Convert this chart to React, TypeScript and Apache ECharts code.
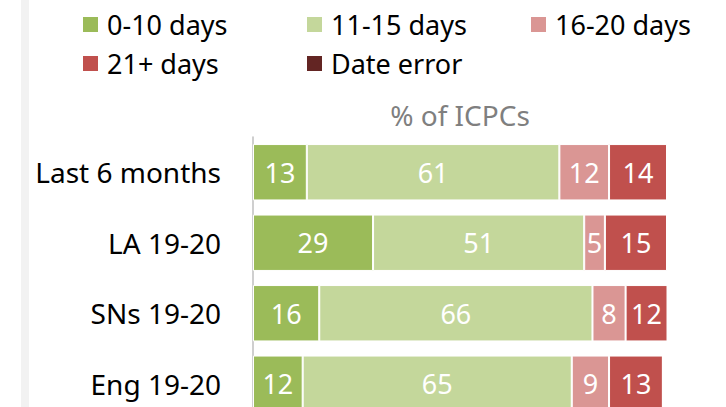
import React, { useEffect, useRef } from "react";
import * as echarts from "echarts";

const categories = ["Last 6 months", "LA 19-20", "SNs 19-20", "Eng 19-20"];
const seriesNames = ["0-10 days", "11-15 days", "16-20 days", "21+ days", "Date error"];
const days0to10 = [13, 29, 16, 12];
const days11to15 = [61, 51, 66, 65];
const days16to20 = [12, 5, 8, 9];
const days21plus = [14, 15, 12, 13];
const dateError = [0, 0, 0, 0];
const colors = ["#9BBB59", "#C4D79B", "#DA9694", "#C0504D", "#632523"];

const FONT = "'Noto Sans', 'Open Sans', sans-serif";

export default function App() {
  const ref = useRef<HTMLDivElement>(null);
  useEffect(() => {
    if (!ref.current) return;
    const chart = echarts.init(ref.current, null, { renderer: "svg" });
    const values = [days0to10, days11to15, days16to20, days21plus, dateError];
    const legendPos = [
      { left: 81, top: 11 },
      { left: 305, top: 11 },
      { left: 529, top: 11 },
      { left: 81, top: 50 },
      { left: 305, top: 50 },
    ];
    chart.setOption({
      animation: false,
      textStyle: { fontFamily: FONT },
      graphic: [
        {
          type: "rect",
          shape: { x: 21, y: 0, width: 8, height: 407 },
          style: { fill: "#f2f2f2" },
          silent: true,
        },
      ],
      legend: seriesNames.map((n, i) => ({
        data: [n],
        left: legendPos[i].left,
        top: legendPos[i].top,
        itemWidth: 17,
        itemHeight: 17,
        icon: "rect",
        padding: 0,
        selectedMode: false,
        textStyle: { fontSize: 27, color: "#000", fontFamily: FONT, padding: [0, 0, 0, 3] },
      })),
      grid: {
        left: 253,
        top: 137,
        width: 414,
        height: 282,
        containLabel: false,
        outerBoundsMode: "none",
      },
      xAxis: {
        type: "value",
        min: 0,
        max: 100,
        position: "top",
        name: "% of ICPCs",
        nameLocation: "middle",
        nameGap: 8,
        nameTextStyle: { color: "#7f7f7f", fontSize: 28, fontFamily: FONT },
        axisLine: { show: false },
        axisTick: { show: false },
        axisLabel: { show: false },
        splitLine: { show: false },
      },
      yAxis: {
        type: "category",
        inverse: true,
        data: categories,
        axisLine: { show: true, lineStyle: { color: "#bfbfbf", width: 1.5 } },
        axisTick: { show: false },
        axisLabel: { color: "#000", fontSize: 28, margin: 32, fontFamily: FONT },
      },
      series: seriesNames.map((n, i) => ({
        name: n,
        type: "bar",
        stack: "total",
        barCategoryGap: "20%",
        clip: true,
        data: values[i],
        itemStyle: { color: colors[i], borderColor: "#ffffff", borderWidth: 1 },
        label: {
          show: i < 4,
          position: "inside",
          color: "#fff",
          fontSize: 27,
          fontFamily: FONT,
          formatter: (p: any) => String(Math.round(p.value)),
        },
      })),
    });
    return () => chart.dispose();
  }, []);
  return (
    <div
      ref={ref}
      style={{ position: "fixed", left: 0, top: 0, width: 726, height: 407, background: "#fff" }}
    />
  );
}
